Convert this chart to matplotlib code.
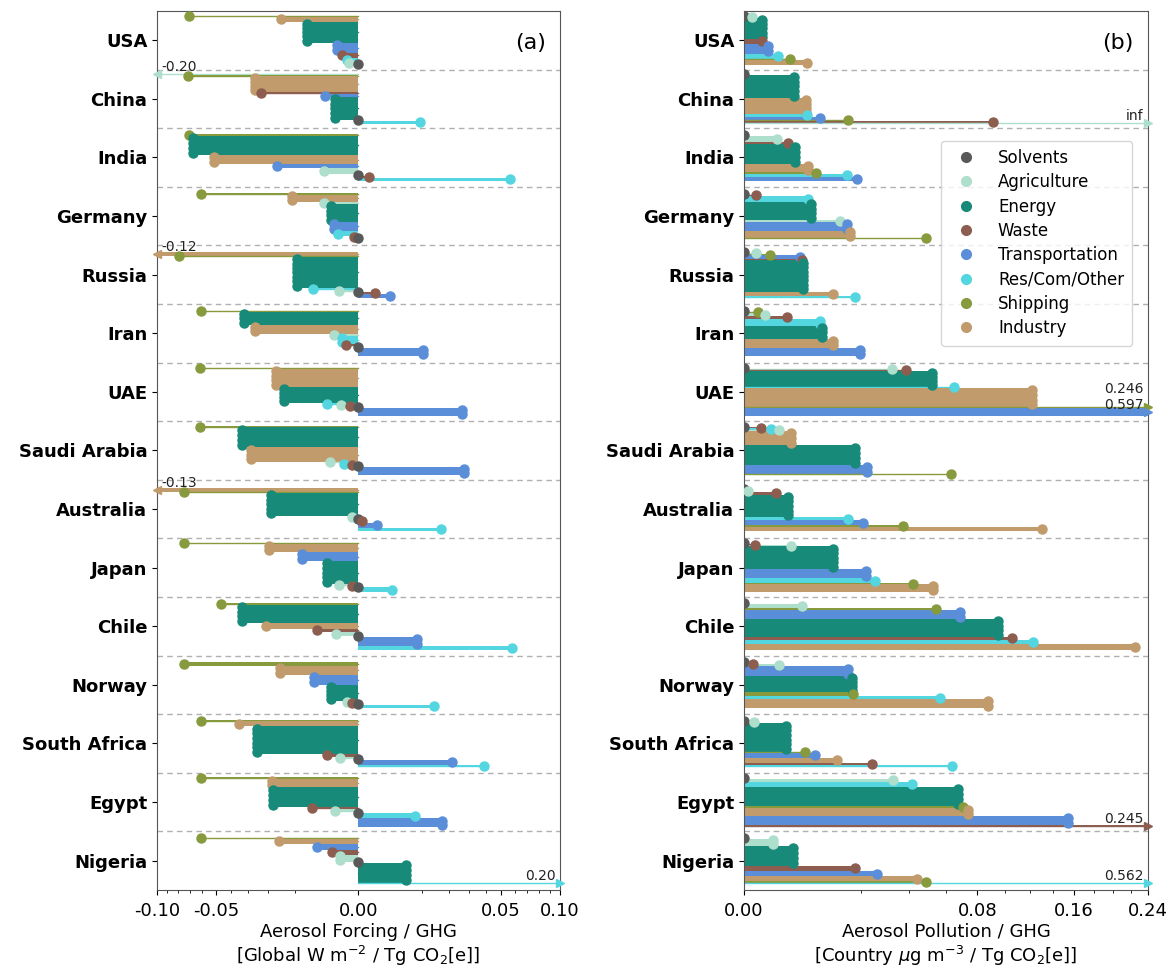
import numpy as np
import matplotlib.pyplot as plt
from matplotlib.lines import Line2D

countries = ["USA", "China", "India", "Germany", "Russia", "Iran", "UAE", "Saudi Arabia",
             "Australia", "Japan", "Chile", "Norway", "South Africa", "Egypt", "Nigeria"]
sectors = ["Solvents", "Agriculture", "Energy", "Waste", "Transportation",
           "Res/Com/Other", "Shipping", "Industry"]
colors = ["#595959", "#aedfcc", "#178a79", "#8d5e50", "#5b8ed9", "#54d6e0", "#879a3d", "#c29b6c"]

# aerosol forcing / GHG  [Global W m-2 / Tg CO2e], columns follow `sectors`
forcing = [
    [0.0, -0.0002, -0.0065, -0.0007, -0.0011, -0.0003, -0.071, -0.0146],
    [0.0, -0.20, -0.0014, -0.0232, -0.0027, 0.0094, -0.0716, -0.0265],
    [0.0, -0.003, -0.0676, 0.00025, -0.0165, 0.0566, -0.0706, -0.0515],
    [0.0, -0.003, -0.0019, -0.00004, -0.0015, -0.001, -0.0612, -0.0108],
    [0.0, -0.00095, -0.0092, 0.0007, 0.0024, -0.005, -0.0791, -0.12],
    [0.0, -0.0015, -0.0322, -0.0004, 0.0104, -0.00065, -0.0612, -0.0265],
    [0.0, -0.00073, -0.0137, -0.00016, 0.0263, -0.0024, -0.0617, -0.0169],
    [0.0, -0.002, -0.0337, -0.00012, 0.0272, -0.0005, -0.0617, -0.0286],
    [0.0, -0.0001, -0.019, 0.00003, 0.00086, 0.0169, -0.0753, -0.13],
    [0.0, -0.00095, -0.0025, -0.0001, -0.0078, 0.0028, -0.0753, -0.0197],
    [0.0, -0.0013, -0.0337, -0.0042, 0.0084, 0.0579, -0.0467, -0.0212],
    [0.0, -0.00035, -0.0019, -0.0001, -0.0049, 0.0142, -0.0748, -0.0153],
    [0.0, -0.00086, -0.0252, -0.0024, 0.0215, 0.0385, -0.0612, -0.0351],
    [0.0, -0.0014, -0.0178, -0.0053, 0.0172, 0.008, -0.0612, -0.0185],
    [0.0, -0.0008, 0.0056, -0.0017, -0.0042, 0.20, -0.0612, -0.0156],
]

# aerosol pollution / GHG  [Country ug m-3 / Tg CO2e]
pollution = [
    [0.0, 0.0001, 0.00045, 0.0005, 0.00087, 0.0017, 0.0031, 0.0058],
    [0.0, np.inf, 0.0037, 0.0912, 0.0085, 0.0058, 0.0159, 0.0057],
    [0.0, 0.00157, 0.0038, 0.0028, 0.0187, 0.0157, 0.0076, 0.006],
    [0.0, 0.0135, 0.0066, 0.0002, 0.0156, 0.006, 0.0487, 0.0165],
    [0.0, 0.0002, 0.0051, 0.0049, 0.0046, 0.0181, 0.001, 0.0116],
    [0.0, 0.00065, 0.0089, 0.0027, 0.0198, 0.0085, 0.0003, 0.0116],
    [0.0, 0.0321, 0.0518, 0.0386, 0.597, 0.065, 0.246, 0.122],
    [0.0, 0.0018, 0.0181, 0.0004, 0.0221, 0.0011, 0.063, 0.0033],
    [0.0, 0.00002, 0.0029, 0.0015, 0.0208, 0.016, 0.037, 0.131],
    [0.0, 0.0033, 0.0116, 0.00018, 0.0219, 0.0252, 0.0421, 0.0523],
    [0.0, 0.0049, 0.0949, 0.1054, 0.0686, 0.1225, 0.0542, 0.2248],
    [0.0, 0.0018, 0.0171, 0.00013, 0.016, 0.0565, 0.0174, 0.0878],
    [0.0, 0.00015, 0.0026, 0.024, 0.0074, 0.0634, 0.0055, 0.0128],
    [0.0, 0.0325, 0.0675, 0.245, 0.1546, 0.0413, 0.0703, 0.074],
    [0.0, 0.00126, 0.0035, 0.0181, 0.0261, 0.562, 0.0487, 0.0438],
]

# share of each sector (bar thickness, fraction of a row)
share = [
    [0.02, 0.02, 0.36, 0.085, 0.17, 0.085, 0.02, 0.085],
    [0.02, 0.02, 0.39, 0.035, 0.05, 0.05, 0.02, 0.27],
    [0.035, 0.10, 0.34, 0.035, 0.07, 0.05, 0.02, 0.14],
    [0.02, 0.035, 0.32, 0.02, 0.14, 0.10, 0.02, 0.12],
    [0.02, 0.02, 0.53, 0.02, 0.07, 0.035, 0.02, 0.07],
    [0.02, 0.05, 0.22, 0.05, 0.14, 0.12, 0.02, 0.15],
    [0.02, 0.02, 0.27, 0.02, 0.14, 0.02, 0.02, 0.32],
    [0.02, 0.02, 0.34, 0.02, 0.14, 0.02, 0.02, 0.25],
    [0.035, 0.035, 0.39, 0.05, 0.085, 0.05, 0.02, 0.07],
    [0.02, 0.02, 0.39, 0.02, 0.15, 0.085, 0.02, 0.14],
    [0.02, 0.07, 0.31, 0.05, 0.15, 0.07, 0.035, 0.10],
    [0.02, 0.035, 0.27, 0.02, 0.17, 0.05, 0.07, 0.15],
    [0.02, 0.035, 0.48, 0.035, 0.085, 0.035, 0.02, 0.085],
    [0.02, 0.05, 0.34, 0.035, 0.14, 0.085, 0.02, 0.15],
    [0.02, 0.12, 0.34, 0.085, 0.10, 0.02, 0.02, 0.085],
]


def fwd(x):
    return np.sign(x) * np.sqrt(np.abs(x))


def inv(x):
    return np.sign(x) * x ** 2


ROW_PX = 58.6


def draw_panel(ax, values, xlim, fmt):
    ax.set_xscale("function", functions=(fwd, inv))
    ax.set_xlim(xlim)
    ax.set_ylim(len(countries) - 0.5, -0.5)
    for i in range(len(countries)):
        vals = np.array(values[i], dtype=float)
        t = np.array(share[i])
        order = np.argsort(vals, kind="stable")
        clipped = [k for k in order if vals[k] < xlim[0] or vals[k] > xlim[1]]
        top = i - t.sum() / 2
        for k in order:
            y = top + t[k] / 2
            top += t[k]
            v = vals[k]
            c = colors[k]
            vc = min(max(v, xlim[0]), xlim[1])
            ax.barh(y, vc, height=t[k], color=c, lw=0, zorder=2)
            ax.plot([0, vc], [y, y], color=c, lw=1, zorder=2)
            if v == vc:
                n = max(1, int(round(t[k] * ROW_PX / 4.5)))
                ys = y - t[k] / 2 + (np.arange(n) + 0.5) * t[k] / n
                ax.plot(np.full(n, v), ys, "o", color=c, ms=6.5, zorder=3)
            else:
                lab = "inf" if np.isinf(v) else fmt.format(v)
                # stack labels of several clipped sectors in one row
                dy = 8 * (len(clipped) - 1 - clipped.index(k))
                if v > 0:
                    ax.plot(vc, y, ">", color=c, ms=6, clip_on=False, zorder=4)
                    ax.annotate(lab, (vc, y), xytext=(-3, dy), textcoords="offset points",
                                ha="right", va="bottom", fontsize=10, color="#222222", zorder=5)
                else:
                    ax.plot(vc, y, "<", color=c, ms=6, clip_on=False, zorder=4)
                    ax.annotate(lab, (vc, y), xytext=(3, dy), textcoords="offset points",
                                ha="left", va="bottom", fontsize=10, color="#222222", zorder=5)
    for i in range(len(countries) - 1):
        ax.axhline(i + 0.5, color="#b0b0b0", ls=(0, (4, 3)), lw=1, zorder=1)
    ax.set_yticks(range(len(countries)))
    ax.set_yticklabels(countries, fontsize=13, fontweight="bold")
    for s in ax.spines.values():
        s.set_color("#555555")
    ax.tick_params(axis="x", labelsize=13, pad=5)


fig = plt.figure(figsize=(11.75, 9.72), dpi=100)
ax1 = fig.add_axes([0.1336, 0.0844, 0.343, 0.9043])
ax2 = fig.add_axes([0.6332, 0.0844, 0.3438, 0.9043])

draw_panel(ax1, forcing, (-0.1, 0.1), "{:.2f}")
ax1.set_xticks([-0.1, -0.05, 0.0, 0.05, 0.1])
ax1.set_xticklabels(["-0.10", "-0.05", "0.00", "0.05", "0.10"])
ax1.set_xticks([x for x in np.round(np.arange(-0.09, 0.1, 0.01), 2) if x not in (-0.05, 0.0, 0.05)], minor=True)
ax1.set_xlabel("Aerosol Forcing / GHG\n[Global W m$^{-2}$ / Tg CO$_2$[e]]", fontsize=13, labelpad=2)
ax1.text(0.965, 0.975, "(a)", transform=ax1.transAxes, ha="right", va="top", fontsize=16)

draw_panel(ax2, pollution, (0.0, 0.24), "{:.3f}")
ax2.set_xticks([0.0, 0.08, 0.16, 0.24])
ax2.set_xticklabels(["0.00", "0.08", "0.16", "0.24"])
ax2.set_xticks([x for x in np.round(np.arange(0.02, 0.24, 0.02), 2) if x not in (0.08, 0.16)], minor=True)
ax2.set_xlabel("Aerosol Pollution / GHG\n[Country $\\mu$g m$^{-3}$ / Tg CO$_2$[e]]", fontsize=13, labelpad=2)
ax2.text(0.965, 0.975, "(b)", transform=ax2.transAxes, ha="right", va="top", fontsize=16)

handles = [Line2D([], [], marker="o", ls="", color=c, ms=7) for c in colors]
ax2.legend(handles, sectors, loc="upper right", bbox_to_anchor=(0.982, 0.862),
           fontsize=12, handletextpad=0.9, labelspacing=0.38, borderpad=0.5)

fig.savefig("out.png", dpi=100)
